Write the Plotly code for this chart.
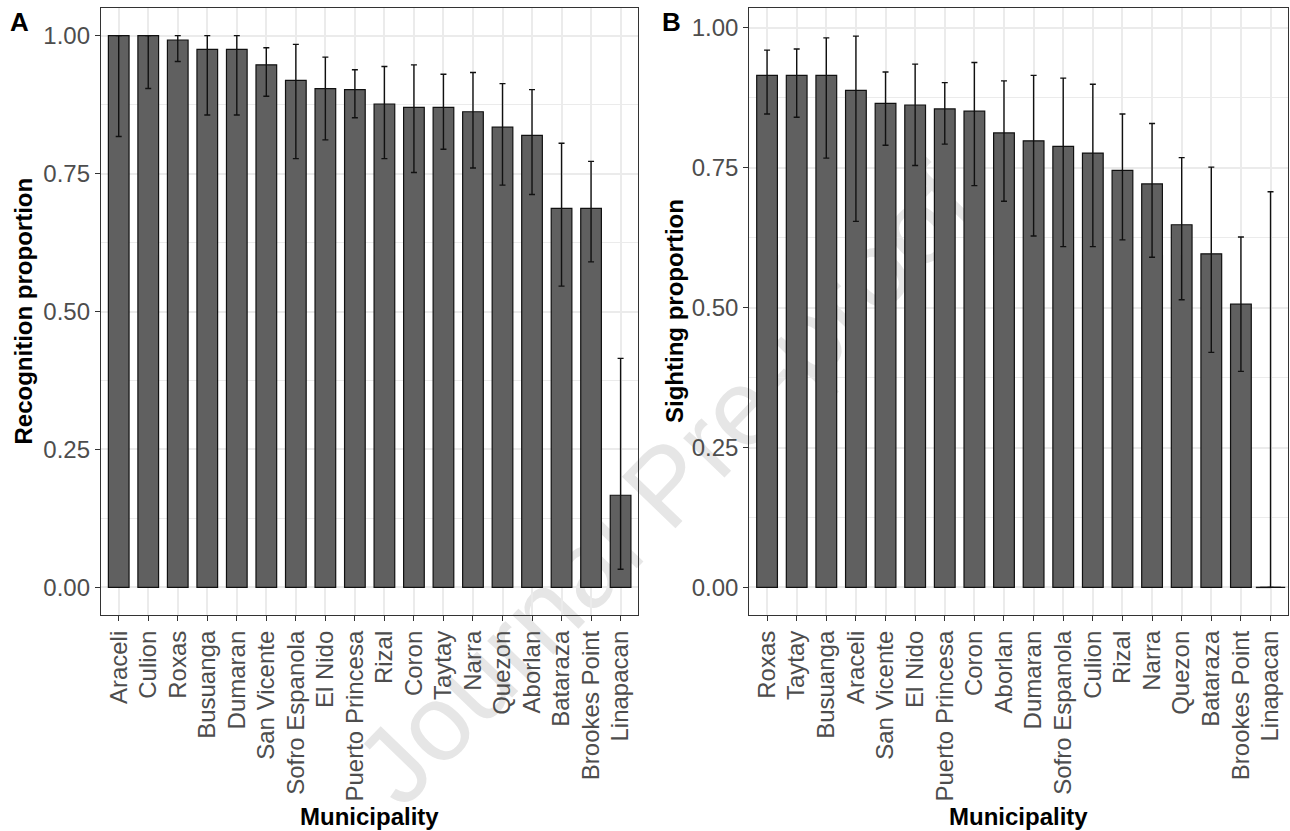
import plotly.graph_objects as go

# ---------------- data ----------------
muni_A = ["Araceli", "Culion", "Roxas", "Busuanga", "Dumaran", "San Vicente",
          "Sofro Espanola", "El Nido", "Puerto Princesa", "Rizal", "Coron",
          "Taytay", "Narra", "Quezon", "Aborlan", "Bataraza", "Brookes Point",
          "Linapacan"]
recog = [1.000, 1.000, 0.992, 0.975, 0.975, 0.947, 0.919, 0.904, 0.902, 0.876,
         0.870, 0.870, 0.862, 0.834, 0.819, 0.687, 0.687, 0.167]
recog_upper = [1.000, 1.000, 1.000, 1.000, 1.000, 0.978, 0.984, 0.961, 0.938,
               0.944, 0.947, 0.930, 0.933, 0.913, 0.902, 0.805, 0.772, 0.415]
recog_lower = [0.817, 0.904, 0.953, 0.856, 0.856, 0.890, 0.777, 0.811, 0.851,
               0.777, 0.752, 0.794, 0.760, 0.729, 0.712, 0.546, 0.590, 0.033]

muni_B = ["Roxas", "Taytay", "Busuanga", "Araceli", "San Vicente", "El Nido",
          "Puerto Princesa", "Coron", "Aborlan", "Dumaran", "Sofro Espanola",
          "Culion", "Rizal", "Narra", "Quezon", "Bataraza", "Brookes Point",
          "Linapacan"]
sight = [0.915, 0.915, 0.915, 0.888, 0.865, 0.862, 0.855, 0.851, 0.812, 0.798,
         0.788, 0.776, 0.745, 0.721, 0.648, 0.596, 0.506, 0.000]
sight_upper = [0.960, 0.962, 0.982, 0.985, 0.921, 0.935, 0.902, 0.938, 0.905,
               0.915, 0.910, 0.899, 0.846, 0.829, 0.768, 0.751, 0.626, 0.707]
sight_lower = [0.846, 0.840, 0.767, 0.654, 0.790, 0.754, 0.792, 0.718, 0.690,
               0.628, 0.609, 0.609, 0.621, 0.590, 0.514, 0.420, 0.386, 0.000]

y_ticks = [0.0, 0.25, 0.5, 0.75, 1.0]
y_ticktext = ["0.00", "0.25", "0.50", "0.75", "1.00"]

# ---------------- styling ----------------
W, H = 1290, 831
FONT = "Liberation Sans, Arial, sans-serif"
BAR_FILL = "#606060"
GRID = "#ebebeb"
BORDER = "#333333"
TICKTXT = "#4d4d4d"


def px(x):
    return x / W


def py(y):
    return 1 - y / H


fig = go.Figure()


def add_panel(cats, vals, upper, lower, xa, ya):
    plus = [u - v for u, v in zip(upper, vals)]
    minus = [v - l for v, l in zip(vals, lower)]
    fig.add_trace(go.Bar(
        x=cats, y=vals, width=0.7,
        marker=dict(color=BAR_FILL, line=dict(color="#111111", width=1.2)),
        error_y=dict(type="data", array=plus, arrayminus=minus, symmetric=False,
                     color="#111111", thickness=1.4, width=3),
        xaxis=xa, yaxis=ya, showlegend=False, hoverinfo="x+y"))
    # zero-height bars: ggplot still draws their outline
    zc = [c for c, v in zip(cats, vals) if v == 0]
    zv = [v for v in vals if v == 0]
    if zc:
        fig.add_trace(go.Scatter(
            x=zc, y=zv, mode="markers",
            marker=dict(symbol="line-ew", size=21,
                        line=dict(color="#111111", width=1.4)),
            xaxis=xa, yaxis=ya, showlegend=False, hoverinfo="skip"))


add_panel(muni_A, recog, recog_upper, recog_lower, "x", "y")
add_panel(muni_B, sight, sight_upper, sight_lower, "x2", "y2")

xcommon = dict(
    type="category", range=[-0.6, len(muni_A) - 0.4],
    showgrid=True, gridcolor=GRID, gridwidth=1.5,
    showline=True, mirror=True, linecolor=BORDER, linewidth=1.3,
    ticks="outside", ticklen=5, tickwidth=1.2, tickcolor=BORDER,
    tickangle=-90, tickfont=dict(family=FONT, size=24, color=TICKTXT),
    zeroline=False,
)
ycommon = dict(
    tickvals=y_ticks, ticktext=y_ticktext,
    showgrid=True, gridcolor=GRID, gridwidth=1.5,
    minor=dict(dtick=0.125, tick0=0, showgrid=True, gridcolor=GRID,
               gridwidth=0.8, ticks=""),
    showline=True, mirror=True, linecolor=BORDER, linewidth=1.3,
    ticks="outside", ticklen=5, tickwidth=1.2, tickcolor=BORDER,
    tickfont=dict(family=FONT, size=24, color=TICKTXT),
    zeroline=False,
)

ydom = [py(615), py(8)]
fig.update_layout(
    width=W, height=H,
    margin=dict(l=0, r=0, t=0, b=0),
    paper_bgcolor="white", plot_bgcolor="rgba(0,0,0,0)",
    bargap=0.3,
    xaxis=dict(xcommon, domain=[px(101), px(638.3)], anchor="y"),
    yaxis=dict(ycommon, domain=ydom, range=[-0.05, 1.05], anchor="x"),
    xaxis2=dict(xcommon, domain=[px(749.3), px(1288.3)], anchor="y2"),
    yaxis2=dict(ycommon, domain=ydom, range=[-0.0493, 1.0353], anchor="x2"),
)

title_font = dict(family=FONT, size=24, color="black")
bold = lambda s: "<b>" + s + "</b>"
ann = [
    # panel tags
    dict(x=px(19.5), y=py(22), text=bold("A"),
         font=dict(family=FONT, size=26, color="black")),
    dict(x=px(671.5), y=py(22), text=bold("B"),
         font=dict(family=FONT, size=26, color="black")),
    # axis titles
    dict(x=px(23), y=py(311.5), text=bold("Recognition proportion"),
         textangle=-90, font=title_font),
    dict(x=px(674.5), y=py(311.5), text=bold("Sighting proportion"),
         textangle=-90, font=title_font),
    dict(x=px(369.7), y=py(816.5), text=bold("Municipality"), font=title_font),
    dict(x=px(1018.8), y=py(816.5), text=bold("Municipality"), font=title_font),
]
for a in ann:
    a.update(xref="paper", yref="paper", showarrow=False,
             xanchor="center", yanchor="middle")
fig.update_layout(annotations=ann)

# watermark, placed beneath the bars
wm_cx, wm_cy = 658, 478
fig.add_shape(
    type="rect", xref="paper", yref="paper",
    x0=px(wm_cx - 5), x1=px(wm_cx + 5), y0=py(wm_cy + 5), y1=py(wm_cy - 5),
    line=dict(width=0), fillcolor="rgba(0,0,0,0)", layer="below",
    label=dict(text="Journal Pre-proof", textangle=-46,
               textposition="middle center",
               font=dict(family=FONT, size=108, color="#e6e6e6")),
)

fig.write_html("out.html")
